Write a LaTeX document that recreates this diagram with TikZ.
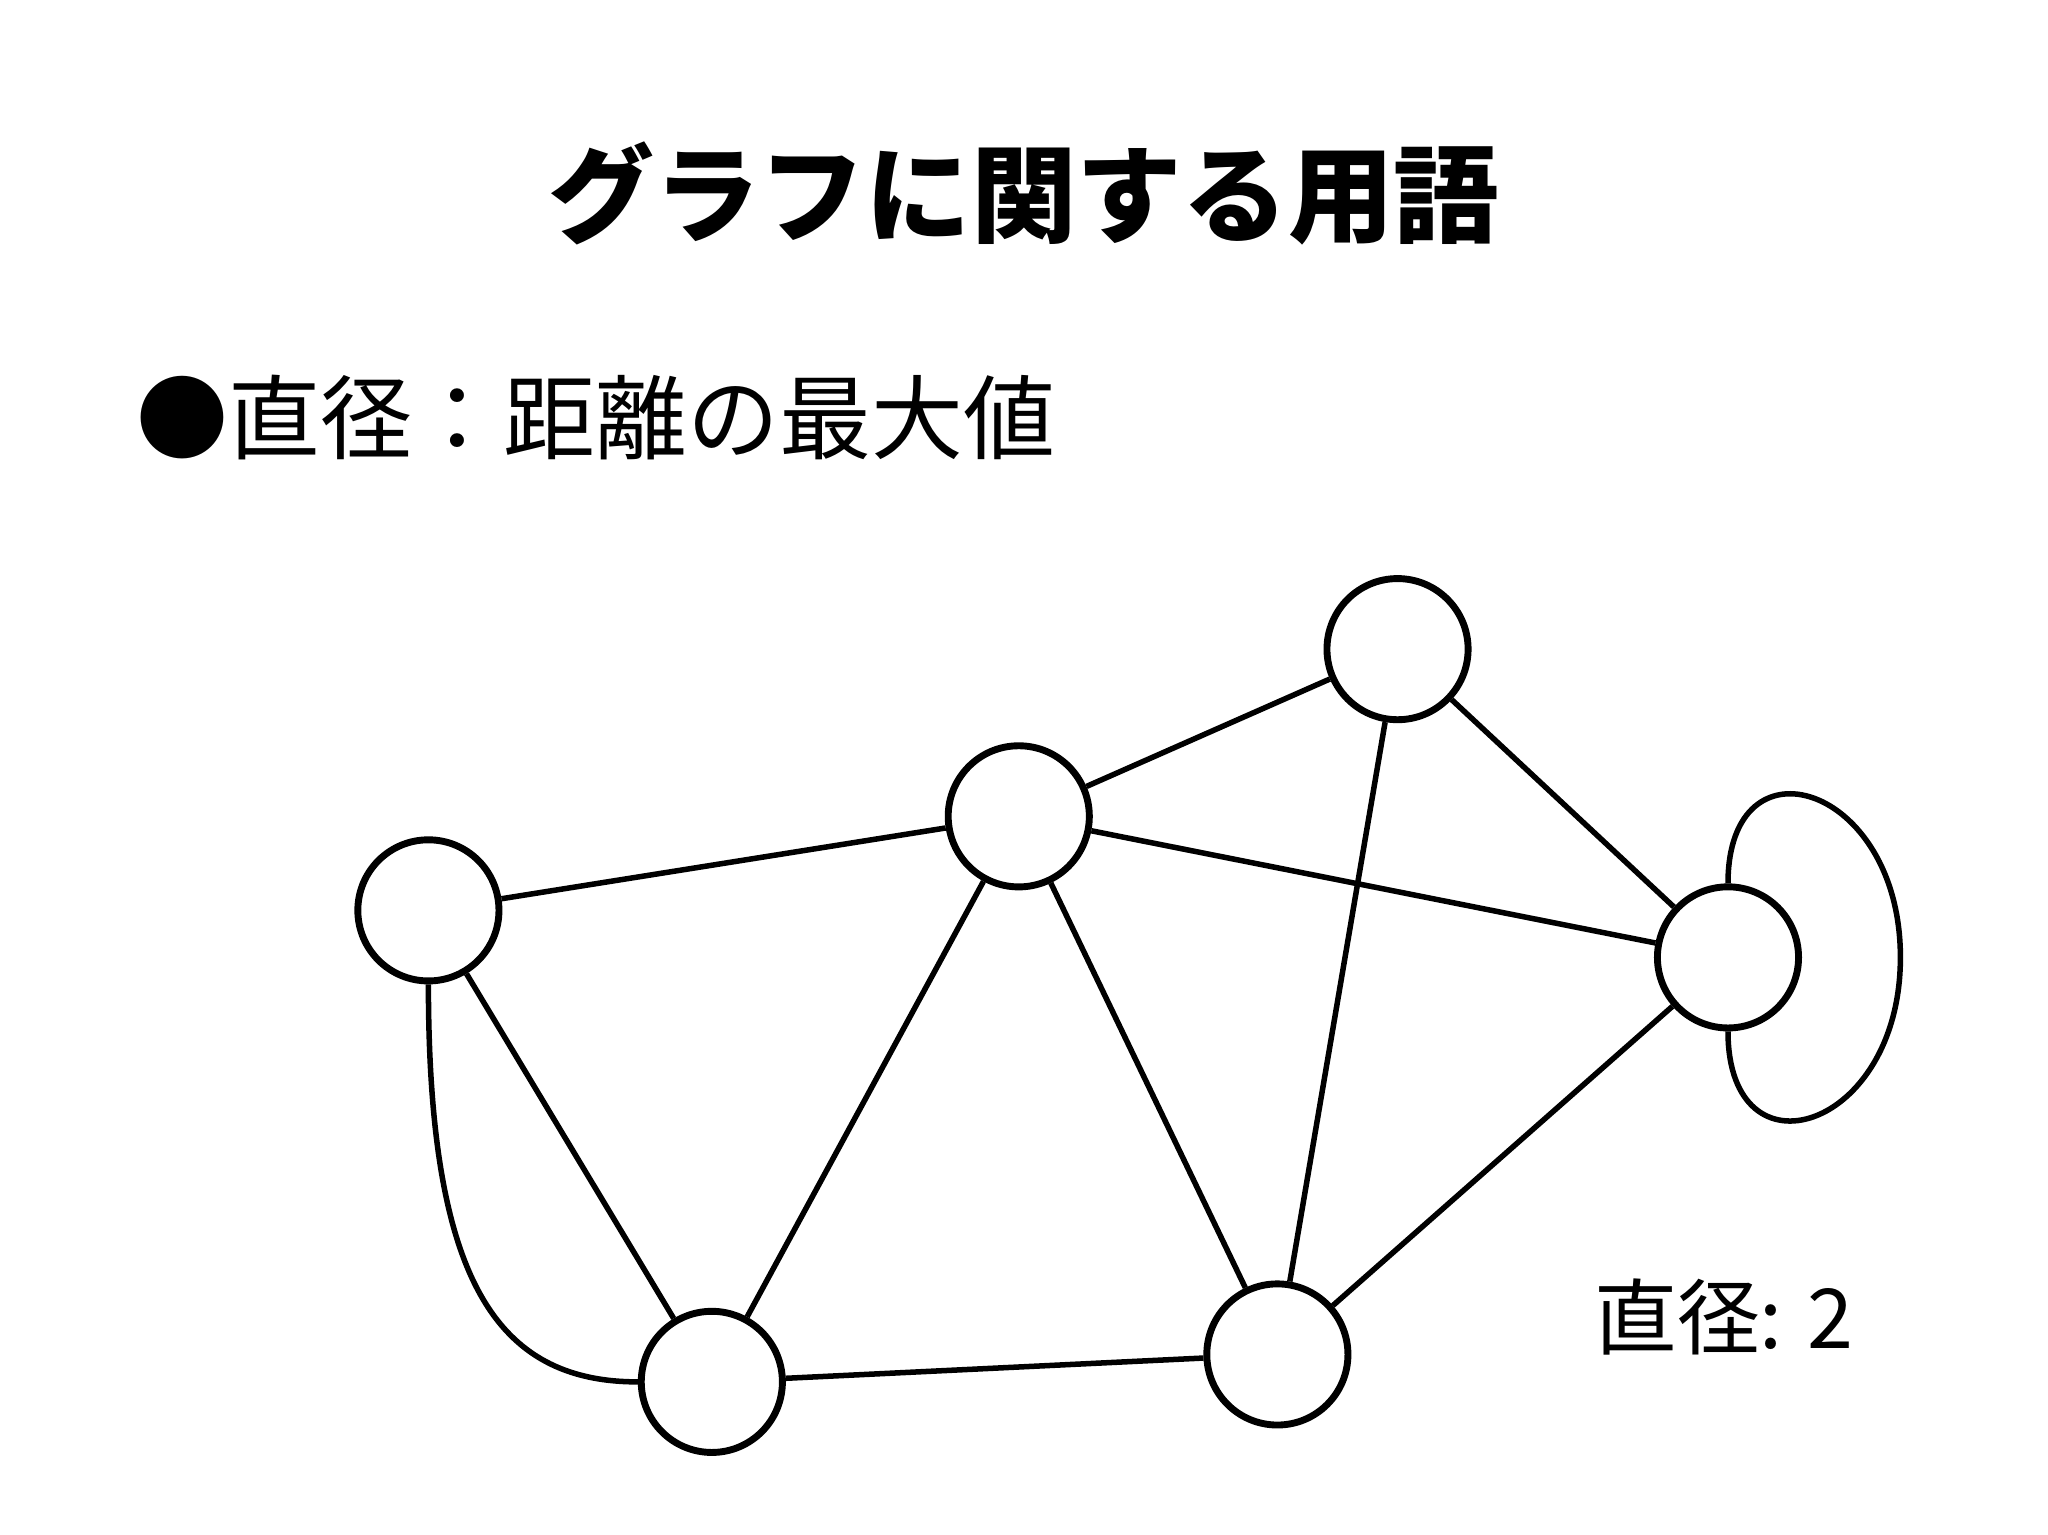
\documentclass[tikz,border=0pt]{standalone}
\usepackage{fontspec}
\newfontfamily\cjk{Noto Sans CJK JP}
\begin{document}
\begin{tikzpicture}[x=0.01cm,y=-0.01cm,
  vtx/.style={circle,draw,line width=1.5pt,minimum size=1.08cm,inner sep=0pt,fill=white},
  edge/.style={line width=1.2pt}]
\useasboundingbox (0,0) rectangle (1568,1175);
\node[font=\cjk\bfseries\fontsize{23}{26}\selectfont] (title) at (784,148) {グラフに関する用語};
\node[font=\cjk\fontsize{20}{24}\selectfont,anchor=west] (head) at (92,320) {●直径：距離の最大値};
\node[font=\cjk\fontsize{18}{22}\selectfont] (diam) at (1320,1008) {直径: 2};
\node[vtx] (a) at (328,697) {};
\node[vtx] (b) at (780,625) {};
\node[vtx] (c) at (1070,497) {};
\node[vtx] (d) at (1323,733) {};
\node[vtx] (e) at (978,1037) {};
\node[vtx] (f) at (545,1058) {};
\begin{scope}[on background layer/.try]
\end{scope}
\draw[edge] (a) -- (b);
\draw[edge] (a) -- (f);
\draw[edge] (a.south) .. controls (328,980) and (380,1058) .. (f.west);
\draw[edge] (b) -- (c);
\draw[edge] (b) -- (d);
\draw[edge] (b) -- (f);
\draw[edge] (b) -- (e);
\draw[edge] (c) -- (d);
\draw[edge] (c) -- (e);
\draw[edge] (d) -- (e);
\draw[edge] (e) -- (f);
\draw[edge] (d.north) .. controls (1323,560) and (1455,600) .. (1455,733)
  .. controls (1455,866) and (1323,906) .. (d.south);
\end{tikzpicture}
\end{document}
